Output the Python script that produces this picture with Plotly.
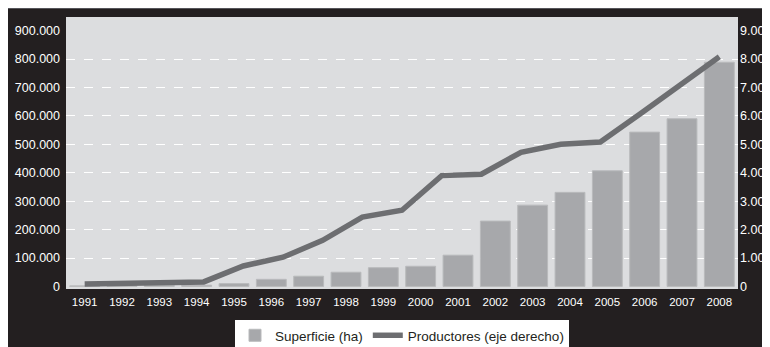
import plotly.graph_objects as go

# Superficie (ha), barras por año
years = [str(y) for y in range(1991, 2009)]
superficie = [2000, 3000, 3500, 4500, 10000, 25000, 36000, 50000, 66000, 71000,
              110000, 230000, 286000, 331000, 407000, 543000, 590000, 789000]

# Productores (eje derecho) - la serie tiene 17 puntos repartidos sobre el ancho
prod_years = list(range(1992, 2009))
productores = [90, 100, 130, 160, 720, 1030, 1620, 2440, 2680, 3900,
               3950, 4720, 5000, 5080, 6070, 7060, 8080]

left_ticks = list(range(0, 900001, 100000))
grid_vals = list(range(100000, 800001, 100000))

BLACK = '#231f20'
PLOT_BG = '#dcdddf'
BAR = '#a7a8ab'
LINE = '#6d6e71'
FONT = 'Liberation Sans, Arial, sans-serif'

fig = go.Figure()

fig.add_trace(go.Bar(
    x=years,
    y=superficie,
    name='Superficie (ha)',
    marker=dict(color=BAR, line=dict(color='#b9babc', width=1)),
    xaxis='x', yaxis='y'
))

fig.add_trace(go.Scatter(
    x=prod_years,
    y=productores,
    mode='lines',
    name='Productores (eje derecho)',
    line=dict(color=LINE, width=5.5),
    xaxis='x2', yaxis='y2'
))

# la página deja 8px de margen blanco: la figura ocupa 762x339
FW, FH = 762, 339
W, H = 672, 272
L, T, B = 58, 9, 58


def px_x(p):
    return (p - L) / W


def px_y(p):
    return (T + H - p) / H


# filo gris en el borde superior del recuadro negro
fig.add_shape(type='line', xref='paper', yref='paper',
              x0=px_x(0), x1=px_x(FW), y0=px_y(0.5), y1=px_y(0.5),
              line=dict(color='#55555a', width=1))

fig.update_layout(
    width=FW,
    height=FH,
    margin=dict(l=L, r=FW - L - W, t=T, b=B, autoexpand=False),
    paper_bgcolor=BLACK,
    plot_bgcolor=PLOT_BG,
    separators=',.',
    bargap=0.2,
    font=dict(family=FONT, color='white', size=13),
    showlegend=True,
    legend=dict(
        orientation='h',
        x=0.5, xanchor='center',
        y=px_y(312), yanchor='top',
        bgcolor='white',
        font=dict(color=BLACK, size=13.5, family=FONT),
        itemwidth=30,
    ),
    xaxis=dict(
        type='category',
        range=[-0.5, 17.5],
        showgrid=False, zeroline=False, showline=False, ticks='',
        ticklabelstandoff=4,
        tickfont=dict(size=11.5, color='white', family=FONT),
    ),
    xaxis2=dict(
        overlaying='x', anchor='y2', visible=False,
        range=[1992 - 8 / 17, 2008 + 8 / 17],
    ),
    yaxis=dict(
        range=[-9000, 948000],
        tickvals=left_ticks,
        tickformat=',d',
        showgrid=False, zeroline=False, showline=False, ticks='',
        ticklabelstandoff=5,
        tickfont=dict(size=12.5, color='white', family=FONT),
        minor=dict(tickvals=grid_vals, showgrid=True, gridcolor='white',
                   griddash='dash', gridwidth=1.3, ticks=''),
    ),
    yaxis2=dict(
        overlaying='y', side='right', anchor='x2',
        range=[-90, 9480],
        dtick=1000, tick0=0,
        tickformat=',d',
        showgrid=False, zeroline=False, showline=False, ticks='',
        ticklabelstandoff=1,
        tickfont=dict(size=12.5, color='white', family=FONT),
    ),
)

fig.write_html('out.html')
